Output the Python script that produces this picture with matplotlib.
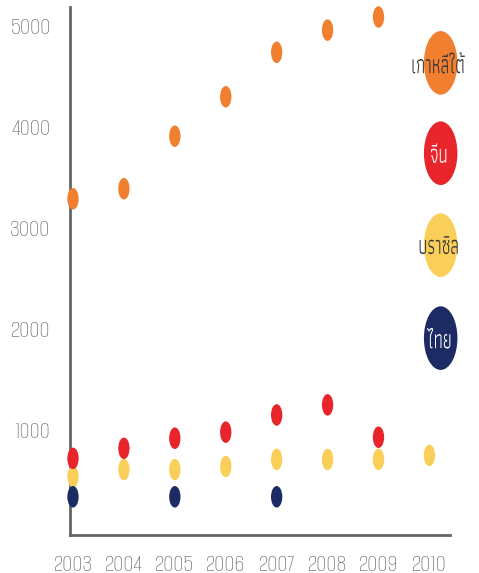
import matplotlib
matplotlib.use("Agg")
import matplotlib.pyplot as plt
from matplotlib.path import Path
from matplotlib.transforms import Affine2D
from matplotlib.textpath import TextPath
from matplotlib.patches import PathPatch
from matplotlib.font_manager import FontProperties

years = [2003, 2004, 2005, 2006, 2007, 2008, 2009, 2010]
korea = [3290, 3390, 3910, 4300, 4740, 4960, 5090, None]
china = [720, 820, 920, 980, 1150, 1250, 930, None]
brazil = [540, 610, 610, 640, 710, 710, 710, 750]
thai_years = [2003, 2005, 2007]
thailand = [340, 340, 340]

names = ["เกาหลีใต้", "จีน", "บราซิล", "ไทย"]
colors = ["#f08030", "#e8252b", "#f9cf5a", "#1c2b63"]
text_colors = ["#333333", "white", "#333333", "white"]

plt.rcParams["font.family"] = ["Athiti", "DejaVu Sans"]

# tall ellipse marker (the original picture is stretched vertically)
oval = Path.unit_circle().transformed(Affine2D().scale(1, 1.9))

fig = plt.figure(figsize=(4.79, 5.73), dpi=100)
ax = fig.add_axes([0.146, 0.066, 0.793, 0.922])

def pts(xs, ys):
    pairs = [(x, y) for x, y in zip(xs, ys) if y is not None]
    return [p[0] for p in pairs], [p[1] for p in pairs]

for xs, ys, c in [(years, korea, colors[0]), (years, brazil, colors[2]),
                  (years, china, colors[1]), (thai_years, thailand, colors[3])]:
    px, py = pts(xs, ys)
    ax.scatter(px, py, s=240, marker=oval, color=c, edgecolors="none", zorder=3, clip_on=False)

ax.set_xlim(2002.94, 2010.4)
ax.set_ylim(-40, 5190)
ax.set_xticks(years)
ax.set_yticks([1000, 2000, 3000, 4000, 5000])
ax.tick_params(length=0, labelcolor="#595959")
ax.tick_params(axis="y", pad=14)
ax.tick_params(axis="x", pad=14)
for lab in ax.get_xticklabels() + ax.get_yticklabels():
    lab.set_family(["Alumni Sans", "DejaVu Sans"])
    lab.set_fontweight("light")
    lab.set_fontsize(18)
for s in ["top", "right"]:
    ax.spines[s].set_visible(False)
for s in ["left", "bottom"]:
    ax.spines[s].set_color("#666666")
    ax.spines[s].set_linewidth(2)

# legend as big ovals with labels (labels stretched vertically like the source)
leg_x = 0.976
leg_y = [0.894, 0.723, 0.549, 0.373]
fp = FontProperties(family="Athiti")
px_per_pt = fig.dpi / 72
for name, c, tc, y in zip(names, colors, text_colors, leg_y):
    ax.scatter([leg_x], [y], s=2100, marker=oval, color=c, edgecolors="none",
               transform=ax.transAxes, clip_on=False, zorder=3)
    tp = TextPath((0, 0), name, size=12.5, prop=fp)
    bb = tp.get_extents()
    cx, cy = ax.transAxes.transform((leg_x, y))
    tr = (Affine2D().translate(-(bb.x0 + bb.x1) / 2, -(bb.y0 + bb.y1) / 2)
          .scale(px_per_pt * 0.95, px_per_pt * 1.55).translate(cx - 2, cy))
    fig.add_artist(PathPatch(tp, transform=tr, facecolor=tc, edgecolor="none", zorder=4))

fig.savefig("out.png")
